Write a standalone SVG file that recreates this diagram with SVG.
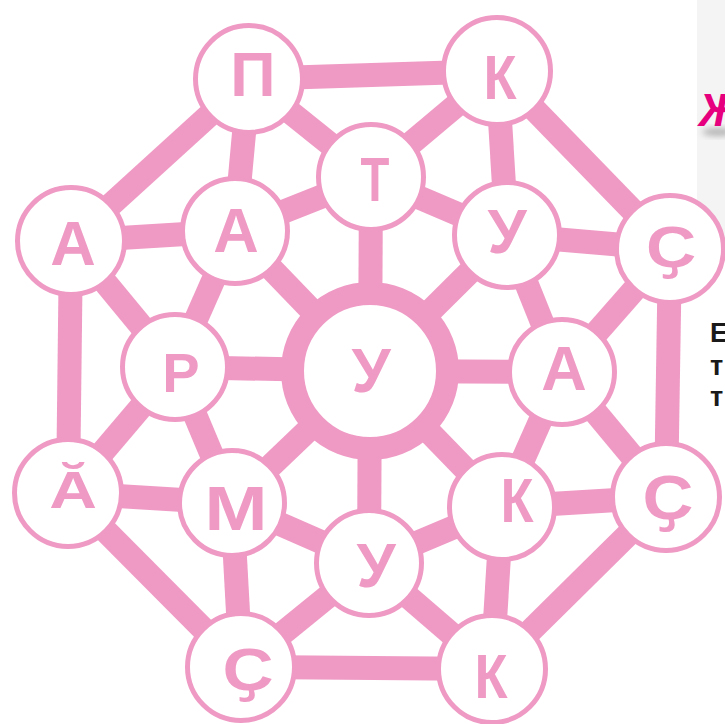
<svg xmlns="http://www.w3.org/2000/svg" width="725" height="724" viewBox="0 0 725 724">
<defs>
<filter id="blur" x="-50%" y="-50%" width="200%" height="200%"><feGaussianBlur stdDeviation="3"/></filter>
</defs>
<style>
.e{stroke:#ef9ac4;stroke-width:24;fill:none}
.n{fill:#fff;stroke:#ef9ac4;stroke-width:5}
.hub{fill:#fff;stroke:#ef9ac4;stroke-width:23}
.t{fill:#ef9ac4;font-family:"Liberation Sans",Arial,"DejaVu Sans",sans-serif;font-weight:bold;text-anchor:middle}
.m{fill:#1a1a1a;font-family:"Liberation Sans",Arial,sans-serif;font-weight:bold;font-size:27px}
</style>
<rect width="725" height="724" fill="#fff"/>
<g id="margin">
<rect x="697" y="0" width="28" height="250" fill="#f4f4f4"/>
<ellipse cx="718" cy="132" rx="16" ry="4" fill="#888" opacity="0.6" filter="url(#blur)"/>
<text x="699" y="126" fill="#e6007e" font-family="Liberation Sans,Arial,sans-serif" font-weight="bold" font-style="italic" font-size="46">Ж</text>
<text class="m" x="710" y="342">Е</text>
<text class="m" x="710" y="375">т</text>
<text class="m" x="710" y="406">т</text>
</g>
<g id="connectors">
<!-- outer ring -->
<line class="e" x1="249" y1="79" x2="497" y2="71"/>
<line class="e" x1="497" y1="71" x2="670" y2="249"/>
<line class="e" x1="670" y1="249" x2="666" y2="497"/>
<line class="e" x1="666" y1="497" x2="492" y2="669"/>
<line class="e" x1="492" y1="669" x2="241" y2="667"/>
<line class="e" x1="241" y1="667" x2="68" y2="493"/>
<line class="e" x1="68" y1="493" x2="71" y2="241"/>
<line class="e" x1="71" y1="241" x2="249" y2="79"/>
<!-- outer to inner -->
<line class="e" x1="249" y1="79" x2="235" y2="231"/>
<line class="e" x1="249" y1="79" x2="371" y2="177"/>
<line class="e" x1="497" y1="71" x2="371" y2="177"/>
<line class="e" x1="497" y1="71" x2="507" y2="235"/>
<line class="e" x1="670" y1="249" x2="507" y2="235"/>
<line class="e" x1="670" y1="249" x2="562" y2="372"/>
<line class="e" x1="666" y1="497" x2="562" y2="372"/>
<line class="e" x1="666" y1="497" x2="502" y2="507"/>
<line class="e" x1="492" y1="669" x2="502" y2="507"/>
<line class="e" x1="492" y1="669" x2="369" y2="563"/>
<line class="e" x1="241" y1="667" x2="369" y2="563"/>
<line class="e" x1="241" y1="667" x2="232" y2="503"/>
<line class="e" x1="68" y1="493" x2="232" y2="503"/>
<line class="e" x1="68" y1="493" x2="175" y2="367"/>
<line class="e" x1="71" y1="241" x2="175" y2="367"/>
<line class="e" x1="71" y1="241" x2="235" y2="231"/>
<!-- inner ring -->
<line class="e" x1="235" y1="231" x2="371" y2="177"/>
<line class="e" x1="371" y1="177" x2="507" y2="235"/>
<line class="e" x1="507" y1="235" x2="562" y2="372"/>
<line class="e" x1="562" y1="372" x2="502" y2="507"/>
<line class="e" x1="502" y1="507" x2="369" y2="563"/>
<line class="e" x1="369" y1="563" x2="232" y2="503"/>
<line class="e" x1="232" y1="503" x2="175" y2="367"/>
<line class="e" x1="175" y1="367" x2="235" y2="231"/>
<!-- spokes -->
<line class="e" x1="370" y1="371" x2="235" y2="231"/>
<line class="e" x1="370" y1="371" x2="371" y2="177"/>
<line class="e" x1="370" y1="371" x2="507" y2="235"/>
<line class="e" x1="370" y1="371" x2="562" y2="372"/>
<line class="e" x1="370" y1="371" x2="502" y2="507"/>
<line class="e" x1="370" y1="371" x2="369" y2="563"/>
<line class="e" x1="370" y1="371" x2="232" y2="503"/>
<line class="e" x1="370" y1="371" x2="175" y2="367"/>
</g>
<g id="n-hub"><circle class="hub" cx="370" cy="371" r="77.5"/><text class="t" font-size="63" transform="translate(371,392)">У</text></g>
<g id="n-p"><circle class="n" cx="249" cy="79" r="53.5"/><text class="t" font-size="63" transform="translate(253,96)">П</text></g>
<g id="n-k1"><circle class="n" cx="497" cy="71" r="53.5"/><text class="t" font-size="63" transform="translate(500,99) scale(0.86,1)">К</text></g>
<g id="n-c1"><circle class="n" cx="670" cy="249" r="53.5"/><text class="t" font-size="58" transform="translate(671,267) scale(1.2,1)">Ҫ</text></g>
<g id="n-c2"><circle class="n" cx="666" cy="497" r="53.5"/><text class="t" font-size="63" transform="translate(668,519) scale(1.12,1)">Ҫ</text></g>
<g id="n-k2"><circle class="n" cx="492" cy="669" r="53.5"/><text class="t" font-size="63" transform="translate(491,698) scale(0.86,1)">К</text></g>
<g id="n-c3"><circle class="n" cx="241" cy="667" r="53.5"/><text class="t" font-size="60" transform="translate(248,690) scale(1.18,1)">Ҫ</text></g>
<g id="n-a2"><circle class="n" cx="68" cy="493" r="53.5"/><text class="t" font-size="52" transform="translate(73,508) scale(1.27,1)">Ӑ</text></g>
<g id="n-a1"><circle class="n" cx="71" cy="241" r="53.5"/><text class="t" font-size="63" transform="translate(73,265)">А</text></g>
<g id="n-ia"><circle class="n" cx="235" cy="231" r="52.5"/><text class="t" font-size="63" transform="translate(236,252)">А</text></g>
<g id="n-it"><circle class="n" cx="371" cy="177" r="52.5"/><text class="t" font-size="63" transform="translate(375,201) scale(0.75,1)">Т</text></g>
<g id="n-iu1"><circle class="n" cx="507" cy="235" r="52.5"/><text class="t" font-size="63" transform="translate(507,253)">У</text></g>
<g id="n-ia2"><circle class="n" cx="562" cy="372" r="52.5"/><text class="t" font-size="63" transform="translate(564,390)">А</text></g>
<g id="n-ik"><circle class="n" cx="502" cy="507" r="52.5"/><text class="t" font-size="63" transform="translate(517,522) scale(0.86,1)">К</text></g>
<g id="n-iu2"><circle class="n" cx="369" cy="563" r="52.5"/><text class="t" font-size="63" transform="translate(376,587)">У</text></g>
<g id="n-im"><circle class="n" cx="232" cy="503" r="52.5"/><text class="t" font-size="63" transform="translate(236,530) scale(1.2,1)">М</text></g>
<g id="n-ir"><circle class="n" cx="175" cy="367" r="52.5"/><text class="t" font-size="56" transform="translate(181,392)">Р</text></g>
</svg>
